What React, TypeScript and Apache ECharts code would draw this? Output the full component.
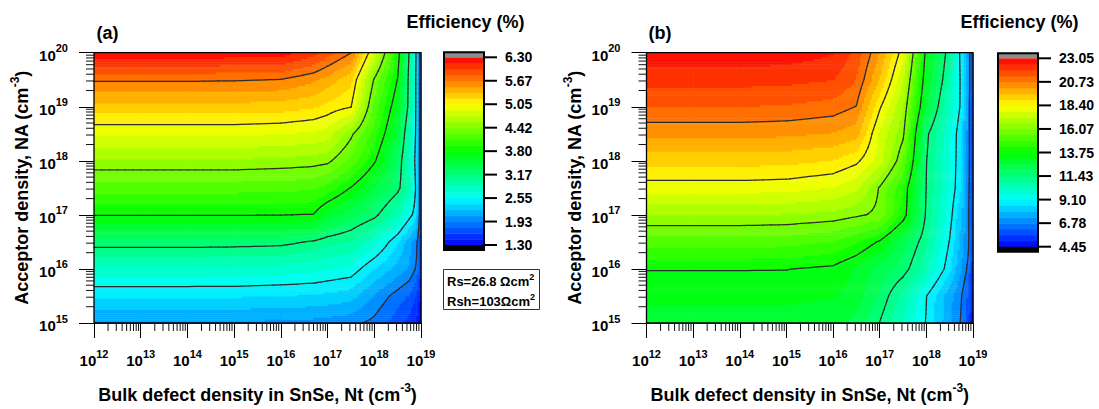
import React, { useEffect, useRef } from 'react';
import * as echarts from 'echarts';

const FONT = '"Liberation Sans", Arial, Helvetica, sans-serif';

// log10 of bulk defect density Nt (x grid of the simulation)
const ntLogA = [12, 13, 14, 15, 16, 16.7, 17, 17.5, 18, 18.5, 18.75, 18.9, 19];
const ntLogB = [12, 13, 14, 15, 16, 16.5, 17, 17.5, 18, 18.5, 18.75, 18.9, 19];
// log10 of acceptor density NA (y grid)
const naLog = [15, 15.5, 16, 16.5, 17, 17.5, 18, 18.5, 19, 19.5, 20];

// Efficiency (%) panel (a): one row per NA value, one column per Nt value
const effA = [
  [2.05, 2.05, 2.05, 2.05, 2.04, 2.02, 2.0, 1.97, 1.88, 1.68, 1.55, 1.45, 1.32],
  [2.41, 2.41, 2.41, 2.41, 2.39, 2.37, 2.35, 2.3, 2.06, 1.85, 1.75, 1.6, 1.45],
  [2.81, 2.81, 2.81, 2.8, 2.78, 2.75, 2.71, 2.66, 2.39, 2.17, 2.06, 1.9, 1.6],
  [3.27, 3.27, 3.27, 3.26, 3.24, 3.15, 3.08, 3.01, 2.79, 2.41, 2.14, 1.98, 1.65],
  [3.81, 3.81, 3.81, 3.81, 3.805, 3.79, 3.57, 3.39, 3.23, 2.91, 2.62, 2.45, 1.65],
  [4.18, 4.18, 4.18, 4.18, 4.16, 4.14, 4.05, 3.79, 3.5, 3.23, 2.95, 2.5, 1.65],
  [4.55, 4.55, 4.55, 4.55, 4.53, 4.5, 4.47, 4.22, 3.83, 3.32, 2.89, 2.45, 1.65],
  [4.92, 4.92, 4.92, 4.92, 4.9, 4.86, 4.82, 4.47, 4.04, 3.5, 2.95, 2.5, 1.65],
  [5.3, 5.3, 5.3, 5.3, 5.28, 5.22, 5.15, 5.06, 4.2, 3.65, 3.1, 2.5, 1.65],
  [5.7, 5.7, 5.7, 5.69, 5.67, 5.55, 5.45, 5.25, 4.4, 3.79, 3.1, 2.5, 1.65],
  [6.25, 6.25, 6.25, 6.24, 6.22, 6.05, 5.9, 5.68, 4.85, 3.92, 3.15, 2.52, 1.65],
];

// Efficiency (%) panel (b)
const effB = [
  [12.9, 12.9, 12.9, 12.9, 12.8, 12.4, 11.4, 10.2, 9.05, 7.46, 6.7, 5.8, 4.6],
  [13.3, 13.3, 13.3, 13.3, 13.2, 12.9, 11.9, 10.65, 9.12, 7.57, 6.8, 6.1, 4.9],
  [13.78, 13.78, 13.78, 13.77, 13.6, 13.1, 12.35, 11.75, 10.46, 8.67, 7.33, 6.6, 5.2],
  [15.2, 15.2, 15.2, 15.15, 14.85, 14.4, 13.65, 12.29, 11.0, 9.05, 7.72, 6.9, 5.4],
  [16.65, 16.65, 16.65, 16.6, 16.45, 16.2, 15.9, 14.15, 11.3, 9.4, 7.97, 6.9, 5.5],
  [18.1, 18.1, 18.1, 18.05, 17.8, 17.4, 16.0, 14.31, 11.4, 9.64, 8.5, 7.0, 5.6],
  [19.2, 19.2, 19.2, 19.15, 18.95, 18.55, 17.56, 15.52, 11.45, 9.74, 8.54, 7.1, 5.7],
  [20.3, 20.3, 20.3, 20.25, 20.1, 19.8, 17.7, 16.24, 11.6, 9.78, 8.6, 7.1, 5.7],
  [21.3, 21.3, 21.3, 21.25, 21.05, 20.7, 18.5, 16.67, 12.72, 10.13, 8.95, 7.1, 5.7],
  [22.1, 22.1, 22.1, 22.05, 21.9, 21.3, 19.52, 17.3, 13.18, 10.67, 8.9, 7.2, 5.8],
  [22.85, 22.85, 22.85, 22.8, 22.5, 21.7, 20.14, 18.05, 13.48, 11.0, 8.78, 7.2, 5.8],
];

const cbTicksA = ['1.30', '1.93', '2.55', '3.17', '3.80', '4.42', '5.05', '5.67', '6.30'];
const cbTicksB = ['4.45', '6.78', '9.10', '11.43', '13.75', '16.07', '18.40', '20.73', '23.05'];
const rangeA = [1.3, 6.3];
const rangeB = [4.45, 23.05];

const N_BANDS = 32;
const N_MAJOR = 8;
const CAP = 0.21;

const STOPS = [
  [0, 0, 0, 255],
  [0.25, 0, 255, 255],
  [0.5, 0, 255, 0],
  [0.75, 255, 255, 0],
  [1, 255, 0, 0],
];

function rainbow(f: number): string {
  f = Math.max(0, Math.min(1, f));
  for (let s = 0; s < STOPS.length - 1; s++) {
    const a = STOPS[s];
    const b = STOPS[s + 1];
    if (f <= b[0]) {
      const t = (f - a[0]) / (b[0] - a[0]);
      const r = Math.round(a[1] + (b[1] - a[1]) * t);
      const g = Math.round(a[2] + (b[2] - a[2]) * t);
      const bl = Math.round(a[3] + (b[3] - a[3]) * t);
      return `rgb(${r},${g},${bl})`;
    }
  }
  return 'rgb(255,0,0)';
}

function bandColor(z: number, lo: number, hi: number): string {
  if (z > hi) return '#8c8c8c';
  if (z < lo) return '#000000';
  let k = Math.floor(((z - lo) / (hi - lo)) * N_BANDS);
  if (k > N_BANDS - 1) k = N_BANDS - 1;
  return rainbow((k + 0.5) / N_BANDS);
}

function bilinear(z: number[][], i: number, j: number, s: number, t: number) {
  const z00 = z[j][i];
  const z10 = z[j][i + 1];
  const z01 = z[j + 1][i];
  const z11 = z[j + 1][i + 1];
  return z00 * (1 - s) * (1 - t) + z10 * s * (1 - t) + z01 * (1 - s) * t + z11 * s * t;
}

function cellData(xs: number[], ys: number[]) {
  const d: number[][] = [];
  for (let j = 0; j < ys.length - 1; j++) {
    for (let i = 0; i < xs.length - 1; i++) {
      d.push([Math.pow(10, xs[i]), Math.pow(10, ys[j]), i, j]);
    }
  }
  return d;
}

function fillRenderer(xs: number[], ys: number[], z: number[][], lo: number, hi: number) {
  return (params: any, api: any) => {
    const i = api.value(2);
    const j = api.value(3);
    const a = api.coord([Math.pow(10, xs[i]), Math.pow(10, ys[j])]);
    const b = api.coord([Math.pow(10, xs[i + 1]), Math.pow(10, ys[j + 1])]);
    const w = b[0] - a[0];
    const h = a[1] - b[1];
    const nx = Math.max(1, Math.round(w / 2));
    const ny = Math.max(1, Math.round(h / 2));
    const children: any[] = [];
    for (let r = 0; r < ny; r++) {
      const t = (r + 0.5) / ny;
      const yTop = a[1] - (h * (r + 1)) / ny;
      let start = 0;
      let cur: string | null = null;
      for (let c = 0; c <= nx; c++) {
        let col: string | null = null;
        if (c < nx) col = bandColor(bilinear(z, i, j, (c + 0.5) / nx, t), lo, hi);
        if (c === nx || col !== cur) {
          if (cur !== null) {
            children.push({
              type: 'rect',
              shape: { x: a[0] + (w * start) / nx, y: yTop, width: (w * (c - start)) / nx + 0.5, height: h / ny + 0.5 },
              style: { fill: cur },
            });
          }
          start = c;
          cur = col;
        }
      }
    }
    return { type: 'group', children, silent: true };
  };
}

function contourRenderer(xs: number[], ys: number[], z: number[][], levels: number[]) {
  return (params: any, api: any) => {
    const i = api.value(2);
    const j = api.value(3);
    const a = api.coord([Math.pow(10, xs[i]), Math.pow(10, ys[j])]);
    const b = api.coord([Math.pow(10, xs[i + 1]), Math.pow(10, ys[j + 1])]);
    const w = b[0] - a[0];
    const h = a[1] - b[1];
    const m = 6;
    const q: number[][] = [];
    for (let bb = 0; bb <= m; bb++) {
      const row: number[] = [];
      for (let aa = 0; aa <= m; aa++) row.push(bilinear(z, i, j, aa / m, bb / m));
      q.push(row);
    }
    const px = (s: number) => a[0] + s * w;
    const py = (t: number) => a[1] - t * h;
    const children: any[] = [];
    for (let bb = 0; bb < m; bb++) {
      for (let aa = 0; aa < m; aa++) {
        const vals = [q[bb][aa], q[bb][aa + 1], q[bb + 1][aa + 1], q[bb + 1][aa]];
        const pos = [
          [aa / m, bb / m],
          [(aa + 1) / m, bb / m],
          [(aa + 1) / m, (bb + 1) / m],
          [aa / m, (bb + 1) / m],
        ];
        for (const L of levels) {
          const pts: number[][] = [];
          for (let e = 0; e < 4; e++) {
            const p = e;
            const n = (e + 1) % 4;
            if (vals[p] >= L !== vals[n] >= L) {
              const tt = (L - vals[p]) / (vals[n] - vals[p]);
              pts.push([
                pos[p][0] + (pos[n][0] - pos[p][0]) * tt,
                pos[p][1] + (pos[n][1] - pos[p][1]) * tt,
              ]);
            }
          }
          const segs: number[][][] = [];
          if (pts.length === 2) segs.push([pts[0], pts[1]]);
          else if (pts.length === 4) {
            segs.push([pts[0], pts[1]]);
            segs.push([pts[2], pts[3]]);
          }
          for (const sg of segs) {
            children.push({
              type: 'line',
              shape: { x1: px(sg[0][0]), y1: py(sg[0][1]), x2: px(sg[1][0]), y2: py(sg[1][1]) },
              style: { stroke: '#2e2e2e', lineWidth: 1.25, lineCap: 'round' },
            });
          }
        }
      }
    }
    return { type: 'group', children, silent: true };
  };
}

function frameRenderer(xDec: number[], yDec: number[]) {
  return (params: any, api: any) => {
    const bl = api.coord([Math.pow(10, xDec[0]), Math.pow(10, yDec[0])]);
    const tr = api.coord([Math.pow(10, xDec[xDec.length - 1]), Math.pow(10, yDec[yDec.length - 1])]);
    const children: any[] = [];
    for (let d = xDec[0]; d < xDec[xDec.length - 1]; d++) {
      for (let k = 2; k <= 9; k++) {
        const p = api.coord([k * Math.pow(10, d), Math.pow(10, yDec[0])]);
        children.push({
          type: 'line',
          shape: { x1: p[0], y1: bl[1] + 1, x2: p[0], y2: bl[1] + 8 },
          style: { stroke: '#111', lineWidth: 1 },
        });
      }
    }
    for (let d = yDec[0]; d < yDec[yDec.length - 1]; d++) {
      for (let k = 2; k <= 9; k++) {
        const p = api.coord([Math.pow(10, xDec[0]), k * Math.pow(10, d)]);
        children.push({
          type: 'line',
          shape: { x1: bl[0] - 8, y1: p[1], x2: bl[0], y2: p[1] },
          style: { stroke: '#111', lineWidth: 1 },
        });
      }
    }
    children.push({
      type: 'rect',
      shape: { x: bl[0], y: tr[1], width: tr[0] - bl[0], height: bl[1] - tr[1] },
      style: { fill: 'none', stroke: '#000', lineWidth: 1.3 },
    });
    return { type: 'group', children, silent: true };
  };
}

function cbRenderer() {
  return (params: any, api: any) => {
    const k = api.value(1);
    const p0 = api.coord([0, (k * N_MAJOR) / N_BANDS]);
    const p1 = api.coord([1, ((k + 1) * N_MAJOR) / N_BANDS]);
    return {
      type: 'rect',
      shape: { x: p0[0], y: p1[1], width: p1[0] - p0[0], height: p0[1] - p1[1] + 0.5 },
      style: { fill: rainbow((k + 0.5) / N_BANDS) },
    };
  };
}

function cbFrameRenderer(ticks: string[]) {
  return (params: any, api: any) => {
    const top = api.coord([0, N_MAJOR + CAP]);
    const topIn = api.coord([1, N_MAJOR]);
    const bot = api.coord([0, -CAP]);
    const botIn = api.coord([1, 0]);
    const children: any[] = [
      { type: 'rect', shape: { x: top[0], y: top[1], width: topIn[0] - top[0], height: topIn[1] - top[1] }, style: { fill: '#8c8c8c' } },
      { type: 'rect', shape: { x: top[0], y: botIn[1], width: botIn[0] - top[0], height: bot[1] - botIn[1] }, style: { fill: '#000' } },
      { type: 'rect', shape: { x: top[0], y: top[1], width: topIn[0] - top[0], height: bot[1] - top[1] }, style: { fill: 'none', stroke: '#000', lineWidth: 2 } },
    ];
    ticks.forEach((label, k) => {
      const p = api.coord([1, k]);
      children.push({
        type: 'line',
        shape: { x1: p[0], y1: p[1], x2: p[0] + 13, y2: p[1] },
        style: { stroke: '#000', lineWidth: 2 },
      });
      children.push({
        type: 'text',
        x: p[0] + 21,
        y: p[1],
        style: { text: label, font: `bold 14px ${FONT}`, fill: '#000', align: 'left', verticalAlign: 'middle' },
      });
    });
    return { type: 'group', children };
  };
}

const xDecades = [12, 13, 14, 15, 16, 17, 18, 19];
const yDecades = [15, 16, 17, 18, 19, 20];

const supRich = (size: number, sup: number, lh: number) => ({
  b: { fontSize: size, fontWeight: 'bold', fontFamily: FONT, color: '#000', verticalAlign: 'bottom', lineHeight: lh },
  s: { fontSize: sup, fontWeight: 'bold', fontFamily: FONT, color: '#000', verticalAlign: 'top', lineHeight: Math.round(sup * 1.1) },
});

const expLabel = (v: number) => `{b|10}{s|${Math.round(Math.log10(v))}}`;

function mainXAxis(gridIndex: number) {
  return {
    type: 'log',
    logBase: 10,
    gridIndex,
    min: 1e12,
    max: 1e19,
    axisLine: { show: true, lineStyle: { color: '#000', width: 1 } },
    axisTick: { show: true, length: 15, lineStyle: { color: '#000', width: 1 } },
    axisLabel: { margin: 25, formatter: expLabel, rich: supRich(15, 11, 20) },
    splitLine: { show: false },
    name: '{b|Bulk defect density in SnSe, Nt (cm}{s|-3}{b|)}',
    nameLocation: 'middle',
    nameGap: 59,
    nameTextStyle: { rich: supRich(18, 12, 22) },
  };
}

function mainYAxis(gridIndex: number) {
  return {
    type: 'log',
    logBase: 10,
    gridIndex,
    min: 1e15,
    max: 1e20,
    axisLine: { show: true, lineStyle: { color: '#000', width: 1 } },
    axisTick: { show: true, length: 15, lineStyle: { color: '#000', width: 1 } },
    axisLabel: { margin: 26, formatter: expLabel, rich: supRich(15, 11, 20) },
    splitLine: { show: false },
    name: '{b|Acceptor density, NA (cm}{s|-3}{b|)}',
    nameLocation: 'middle',
    nameGap: 63,
    nameRotate: 90,
    nameTextStyle: { rich: supRich(18, 12, 22) },
  };
}

function cbXAxis(gridIndex: number) {
  return { type: 'value', gridIndex, min: 0, max: 1, show: false };
}

function cbYAxis(gridIndex: number) {
  return { type: 'value', gridIndex, min: 0, max: N_MAJOR, interval: 1, show: false };
}

function levelsOf(range: number[]) {
  const out: number[] = [];
  for (let k = 1; k < N_MAJOR; k++) out.push(range[0] + ((range[1] - range[0]) * k) / N_MAJOR);
  return out;
}

const bandData = Array.from({ length: N_BANDS }, (_, k) => [0.5, k]);

export default function App() {
  const ref = useRef<HTMLDivElement>(null);
  useEffect(() => {
    if (!ref.current) return;
    const chart = echarts.init(ref.current, undefined, { renderer: 'svg' });
    const textStyle = (size: number) => ({ font: `bold ${size}px ${FONT}`, fill: '#000' });
    const boxRich = supRich(13, 9, 16);
    chart.setOption({
      animation: false,
      backgroundColor: '#fff',
      grid: [
        { left: 94, top: 52.7, width: 327, height: 274, containLabel: false },
        { left: 646.5, top: 52.7, width: 326.5, height: 274, containLabel: false },
        { left: 444, top: 57.3, width: 40, height: 187.7, containLabel: false },
        { left: 998, top: 58.3, width: 40, height: 188.4, containLabel: false },
      ],
      xAxis: [mainXAxis(0), mainXAxis(1), cbXAxis(2), cbXAxis(3)],
      yAxis: [mainYAxis(0), mainYAxis(1), cbYAxis(2), cbYAxis(3)],
      series: [
        {
          type: 'custom', xAxisIndex: 0, yAxisIndex: 0, z: 1, clip: false,
          encode: { x: 0, y: 1 },
          data: cellData(ntLogA, naLog),
          renderItem: fillRenderer(ntLogA, naLog, effA, rangeA[0], rangeA[1]),
        },
        {
          type: 'custom', xAxisIndex: 0, yAxisIndex: 0, z: 5, clip: false,
          encode: { x: 0, y: 1 },
          data: cellData(ntLogA, naLog),
          renderItem: contourRenderer(ntLogA, naLog, effA, levelsOf(rangeA)),
        },
        {
          type: 'custom', xAxisIndex: 0, yAxisIndex: 0, z: 10, clip: false,
          encode: { x: 0, y: 1 },
          data: [[1e12, 1e15]],
          renderItem: frameRenderer(xDecades, yDecades),
        },
        {
          type: 'custom', xAxisIndex: 1, yAxisIndex: 1, z: 1, clip: false,
          encode: { x: 0, y: 1 },
          data: cellData(ntLogB, naLog),
          renderItem: fillRenderer(ntLogB, naLog, effB, rangeB[0], rangeB[1]),
        },
        {
          type: 'custom', xAxisIndex: 1, yAxisIndex: 1, z: 5, clip: false,
          encode: { x: 0, y: 1 },
          data: cellData(ntLogB, naLog),
          renderItem: contourRenderer(ntLogB, naLog, effB, levelsOf(rangeB)),
        },
        {
          type: 'custom', xAxisIndex: 1, yAxisIndex: 1, z: 10, clip: false,
          encode: { x: 0, y: 1 },
          data: [[1e12, 1e15]],
          renderItem: frameRenderer(xDecades, yDecades),
        },
        {
          type: 'custom', xAxisIndex: 2, yAxisIndex: 2, z: 1, clip: false,
          data: bandData, renderItem: cbRenderer(),
        },
        {
          type: 'custom', xAxisIndex: 2, yAxisIndex: 2, z: 3, clip: false,
          data: [[0, 0]], renderItem: cbFrameRenderer(cbTicksA),
        },
        {
          type: 'custom', xAxisIndex: 3, yAxisIndex: 3, z: 1, clip: false,
          data: bandData, renderItem: cbRenderer(),
        },
        {
          type: 'custom', xAxisIndex: 3, yAxisIndex: 3, z: 3, clip: false,
          data: [[0, 0]], renderItem: cbFrameRenderer(cbTicksB),
        },
      ],
      graphic: [
        { type: 'text', x: 107.5, y: 33, style: { text: '(a)', ...textStyle(18), align: 'center', verticalAlign: 'middle' } },
        { type: 'text', x: 660, y: 33, style: { text: '(b)', ...textStyle(18), align: 'center', verticalAlign: 'middle' } },
        { type: 'text', x: 465.5, y: 22, style: { text: 'Efficiency (%)', ...textStyle(18), align: 'center', verticalAlign: 'middle' } },
        { type: 'text', x: 1019.5, y: 22, style: { text: 'Efficiency (%)', ...textStyle(18), align: 'center', verticalAlign: 'middle' } },
        { type: 'rect', shape: { x: 443.5, y: 269.5, width: 96, height: 40 }, style: { fill: '#fff', stroke: '#333', lineWidth: 1 } },
        { type: 'text', x: 447, y: 280, style: { text: '{b|Rs=26.8 Ωcm}{s|2}', rich: boxRich, align: 'left', verticalAlign: 'middle' } },
        { type: 'text', x: 447, y: 300, style: { text: '{b|Rsh=103Ωcm}{s|2}', rich: boxRich, align: 'left', verticalAlign: 'middle' } },
      ],
    });
    return () => chart.dispose();
  }, []);
  return <div ref={ref} style={{ position: 'absolute', left: 0, top: 0, width: 1099, height: 409 }} />;
}
